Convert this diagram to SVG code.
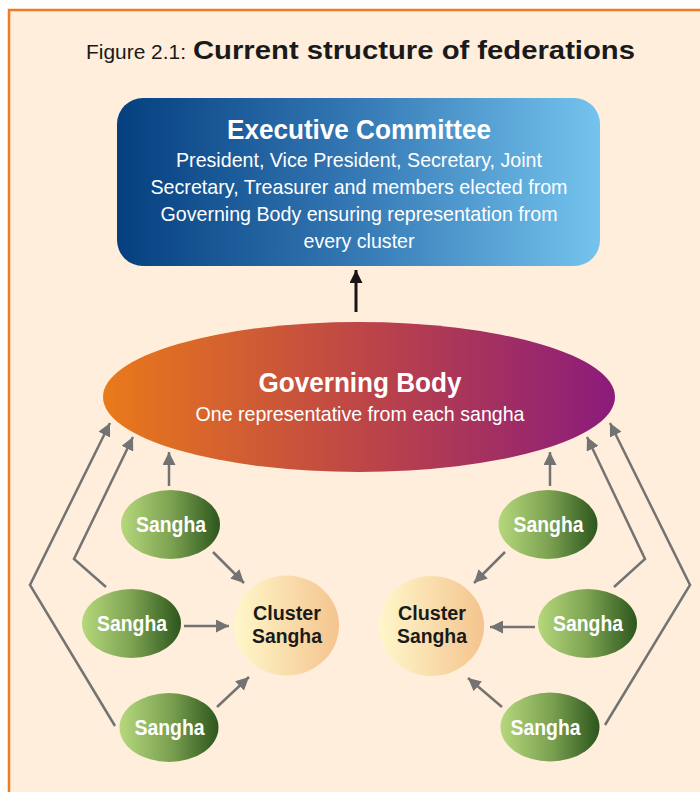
<svg xmlns="http://www.w3.org/2000/svg" width="700" height="792" viewBox="0 0 700 792">
  <defs>
    <linearGradient id="gradExec" x1="0" y1="0" x2="1" y2="0">
      <stop offset="0" stop-color="#053F7F"/>
      <stop offset="0.5" stop-color="#3579B5"/>
      <stop offset="1" stop-color="#74C4EE"/>
    </linearGradient>
    <linearGradient id="gradGov" x1="0" y1="0" x2="1" y2="0">
      <stop offset="0" stop-color="#E97A1A"/>
      <stop offset="0.5" stop-color="#BE4646"/>
      <stop offset="1" stop-color="#8B1B7B"/>
    </linearGradient>
    <linearGradient id="gradSangha" x1="0" y1="0" x2="1" y2="0">
      <stop offset="0" stop-color="#B6D87C"/>
      <stop offset="0.5" stop-color="#7DA352"/>
      <stop offset="1" stop-color="#2C561D"/>
    </linearGradient>
    <linearGradient id="gradCluster" x1="0" y1="0" x2="1" y2="0">
      <stop offset="0" stop-color="#FFF7CA"/>
      <stop offset="1" stop-color="#F4C48E"/>
    </linearGradient>
    <marker id="arrGray" markerUnits="userSpaceOnUse" markerWidth="13" markerHeight="13" viewBox="0 0 12 12" refX="12" refY="6" orient="auto">
      <path d="M0,0 L12,6 L0,12 z" fill="#737373"/>
    </marker>
    <marker id="arrBlack" markerUnits="userSpaceOnUse" markerWidth="13" markerHeight="13" viewBox="0 0 12 12" refX="12" refY="6" orient="auto">
      <path d="M0,0 L12,6 L0,12 z" fill="#1A1414"/>
    </marker>
  </defs>
  <style>
    text { font-family: "Liberation Sans", Arial, sans-serif; text-anchor: middle; }
    .title { fill: #1A1A1A; text-anchor: start; }
    .head { fill: #FFFFFF; font-weight: bold; font-size: 28px; }
    .body { fill: #FFFFFF; font-size: 21px; }
    .sangha { fill: #FFFFFF; font-weight: bold; font-size: 22px; }
    .cluster { fill: #1A1A1A; font-weight: bold; font-size: 20px; }
    .link { fill: none; stroke: #737373; stroke-width: 2.5; marker-end: url(#arrGray); }
    .up { fill: none; stroke: #1A1414; stroke-width: 3; marker-end: url(#arrBlack); }
  </style>

  <!-- page and framed panel -->
  <rect x="0" y="0" width="700" height="792" fill="#FFFFFF"/>
  <rect x="9" y="10" width="720" height="800" fill="#FEEEDB" stroke="#EE7C22" stroke-width="2.5"/>

  <!-- caption -->
  <g id="caption">
    <text class="title" x="86" y="59" font-size="21" textLength="100" lengthAdjust="spacingAndGlyphs">Figure 2.1:</text>
    <text class="title" x="193" y="59" font-size="26" font-weight="bold" textLength="442" lengthAdjust="spacingAndGlyphs">Current structure of federations</text>
  </g>

  <!-- connectors -->
  <g id="connectors">
    <line class="up" x1="356" y1="312" x2="356" y2="270"/>

    <!-- left cluster -->
    <line class="link" x1="169" y1="486" x2="169" y2="452"/>
    <line class="link" x1="213" y1="552" x2="244" y2="583"/>
    <line class="link" x1="184" y1="626" x2="229" y2="626"/>
    <line class="link" x1="217" y1="707" x2="249" y2="677"/>
    <polyline class="link" points="106,587 74,559 133,437"/>
    <polyline class="link" points="115,726 30,585 110,423"/>

    <!-- right cluster -->
    <line class="link" x1="550" y1="486" x2="550" y2="452"/>
    <line class="link" x1="505" y1="552" x2="474" y2="583"/>
    <line class="link" x1="535" y1="627" x2="490" y2="627"/>
    <line class="link" x1="502" y1="707" x2="468" y2="678"/>
    <polyline class="link" points="614,587 645,559 587,437"/>
    <polyline class="link" points="605,725 690,585 610,423"/>
  </g>

  <!-- executive committee -->
  <g id="executive-committee">
    <rect x="117" y="98" width="483" height="168" rx="26" ry="26" fill="url(#gradExec)"/>
    <text class="head" x="359" y="138.5" textLength="264" lengthAdjust="spacingAndGlyphs">Executive Committee</text>
    <text class="body" x="359" y="167" textLength="366" lengthAdjust="spacingAndGlyphs">President, Vice President, Secretary, Joint</text>
    <text class="body" x="359" y="194" textLength="417" lengthAdjust="spacingAndGlyphs">Secretary, Treasurer and members elected from</text>
    <text class="body" x="359" y="221" textLength="397" lengthAdjust="spacingAndGlyphs">Governing Body ensuring representation from</text>
    <text class="body" x="359" y="247.5" textLength="111" lengthAdjust="spacingAndGlyphs">every cluster</text>
  </g>

  <!-- governing body -->
  <g id="governing-body">
    <ellipse cx="359" cy="397" rx="256" ry="75" fill="url(#gradGov)"/>
    <text class="head" x="360" y="392" textLength="203" lengthAdjust="spacingAndGlyphs">Governing Body</text>
    <text class="body" x="360" y="421" font-size="22" textLength="329" lengthAdjust="spacingAndGlyphs">One representative from each sangha</text>
  </g>

  <!-- left side sanghas -->
  <g id="sangha-left-top">
    <ellipse cx="170.5" cy="524.5" rx="49.5" ry="34.5" fill="url(#gradSangha)"/>
    <text class="sangha" x="171" y="532" textLength="70" lengthAdjust="spacingAndGlyphs">Sangha</text>
  </g>
  <g id="sangha-left-middle">
    <ellipse cx="131.5" cy="623.5" rx="49.5" ry="34.5" fill="url(#gradSangha)"/>
    <text class="sangha" x="132" y="631" textLength="70" lengthAdjust="spacingAndGlyphs">Sangha</text>
  </g>
  <g id="sangha-left-bottom">
    <ellipse cx="169" cy="727.5" rx="49.5" ry="34.5" fill="url(#gradSangha)"/>
    <text class="sangha" x="169.5" y="735" textLength="70" lengthAdjust="spacingAndGlyphs">Sangha</text>
  </g>
  <g id="cluster-left">
    <ellipse cx="286.5" cy="625.5" rx="52.5" ry="50" fill="url(#gradCluster)"/>
    <text class="cluster" x="287" y="619.5" textLength="68" lengthAdjust="spacingAndGlyphs">Cluster</text>
    <text class="cluster" x="287" y="642.5" textLength="70" lengthAdjust="spacingAndGlyphs">Sangha</text>
  </g>

  <!-- right side sanghas -->
  <g id="sangha-right-top">
    <ellipse cx="548" cy="524.5" rx="49.5" ry="34.5" fill="url(#gradSangha)"/>
    <text class="sangha" x="548.5" y="532" textLength="70" lengthAdjust="spacingAndGlyphs">Sangha</text>
  </g>
  <g id="sangha-right-middle">
    <ellipse cx="587.5" cy="623.5" rx="49.5" ry="34.5" fill="url(#gradSangha)"/>
    <text class="sangha" x="588" y="631" textLength="70" lengthAdjust="spacingAndGlyphs">Sangha</text>
  </g>
  <g id="sangha-right-bottom">
    <ellipse cx="550" cy="727" rx="49.5" ry="34.5" fill="url(#gradSangha)"/>
    <text class="sangha" x="545.5" y="735" textLength="70" lengthAdjust="spacingAndGlyphs">Sangha</text>
  </g>
  <g id="cluster-right">
    <ellipse cx="431.5" cy="626" rx="52.5" ry="50" fill="url(#gradCluster)"/>
    <text class="cluster" x="432" y="619.5" textLength="68" lengthAdjust="spacingAndGlyphs">Cluster</text>
    <text class="cluster" x="432" y="642.5" textLength="70" lengthAdjust="spacingAndGlyphs">Sangha</text>
  </g>
</svg>
